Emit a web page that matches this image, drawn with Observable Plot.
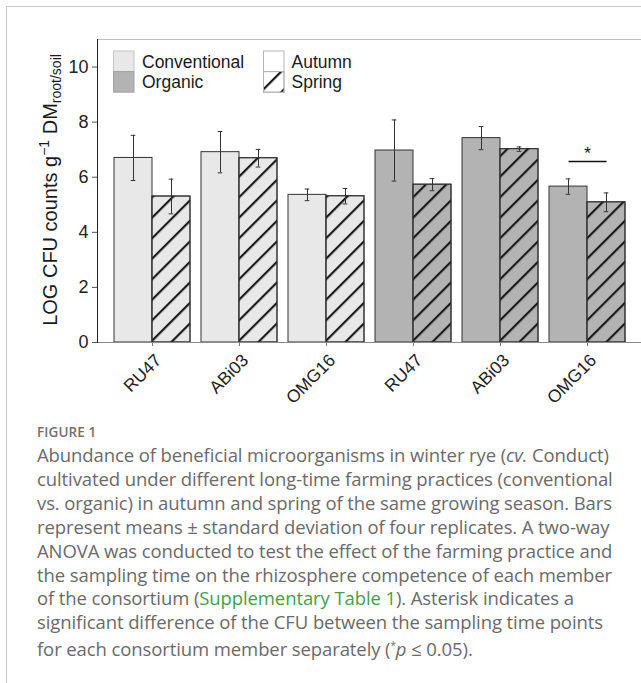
<!DOCTYPE html>
<html>
<head>
<meta charset="utf-8">
<script src="https://cdn.jsdelivr.net/npm/d3@7"></script>
<script src="https://cdn.jsdelivr.net/npm/@observablehq/plot@0.6"></script>
<style>
  html, body { margin: 0; padding: 0; background: #fff; }
  body { width: 641px; height: 683px; overflow: hidden; position: relative; }
  #frame { position: absolute; left: 6px; top: 6px; width: 700px; height: 700px;
           border-top: 1px solid #c8c8c8; border-left: 1px solid #c8c8c8; }
  #chart, #yaxis { position: absolute; left: 0; top: 0; }
  #caption { position: absolute; left: 37px; top: 421px; font-family: "Open Sans", sans-serif;
             color: #6a6a6a; white-space: nowrap; }
  #caption .fig { font-size: 13.5px; font-weight: 600; letter-spacing: 0.1px; color: #707070; line-height: 22px; }
  #caption .body { font-size: 18.5px; line-height: 23.9px; letter-spacing: -0.1px; }
  #caption .link { color: #43a047; }
</style>
</head>
<body>
<div id="frame"></div>
<div id="yaxis"></div>
<div id="chart"></div>
<div id="caption">
  <div class="fig">FIGURE 1</div>
  <div class="body">
    Abundance of beneficial microorganisms in winter rye (<i>cv.</i> Conduct)<br>
    cultivated under different long-time farming practices (conventional<br>
    vs. organic) in autumn and spring of the same growing season. Bars<br>
    represent means ± standard deviation of four replicates. A two-way<br>
    ANOVA was conducted to test the effect of the farming practice and<br>
    the sampling time on the rhizosphere competence of each member<br>
    of the consortium (<span class="link">Supplementary Table 1</span>). Asterisk indicates a<br>
    significant difference of the CFU between the sampling time points<br>
    for each consortium member separately (<sup style="font-size:10px">*</sup><i>p</i> ≤ 0.05).
  </div>
</div>
<script>
// ---- data ----
const strains = ["RU47", "ABi03", "OMG16"];
const practices = ["Conventional", "Organic"];
const seasons = ["Autumn", "Spring"];
// order: Conventional RU47, ABi03, OMG16, Organic RU47, ABi03, OMG16
const autumnMean = [6.70, 6.91, 5.36, 6.97, 7.42, 5.66];
const autumnSD   = [0.82, 0.75, 0.21, 1.11, 0.42, 0.28];
const springMean = [5.30, 6.69, 5.31, 5.73, 7.02, 5.09];
const springSD   = [0.63, 0.32, 0.28, 0.22, 0.08, 0.34];
const yTicks = [0, 2, 4, 6, 8, 10];
const sigGroups = ["Organic OMG16"];
const sigLevel = [6.57];
const sigLabel = ["*"];
const fillColors = ["#e8e8e8", "#b3b3b3"];

// ---- build table ----
const groups = practices.flatMap(p => strains.map(s => ({key: p + " " + s, practice: p, strain: s})));
const rows = groups.flatMap((g, i) => [
  {group: g.key, practice: g.practice, season: "Autumn", mean: autumnMean[i], sd: autumnSD[i]},
  {group: g.key, practice: g.practice, season: "Spring", mean: springMean[i], sd: springSD[i]}
]);
const sig = sigGroups.map((g, i) => ({group: g, y: sigLevel[i], label: sigLabel[i]}));

const ink = "#333333";
const font = "'Liberation Sans', Arial, sans-serif";
const dims = {width: 641, height: 420, marginLeft: 97, marginRight: 0, marginTop: 39, marginBottom: 78};
const yScale = {domain: [0, 11], label: null};

// y axis + top panel line (not faceted), drawn underneath the bars
const axisPlot = Plot.plot({
  ...dims,
  style: {fontFamily: font, color: ink, background: "transparent"},
  x: {axis: null},
  y: yScale,
  marks: [
    Plot.frame({anchor: "top", stroke: "#bdbdbd"}),
    Plot.axisY({ticks: yTicks, tickSize: 5, tickPadding: 4, fontSize: 18, stroke: "#555", fill: "#222"})
  ]
});
document.getElementById("yaxis").appendChild(axisPlot);

const plot = Plot.plot({
  ...dims,
  style: {fontFamily: font, color: ink, background: "transparent"},
  fx: {domain: groups.map(g => g.key), paddingInner: 0.127, paddingOuter: 0.158, label: null},
  x: {domain: seasons, padding: 0, axis: null},
  y: {...yScale, axis: null},
  color: {domain: practices, range: fillColors},
  marks: [
    Plot.barY(rows, {fx: "group", x: "season", y: "mean", fill: "practice", stroke: ink, strokeWidth: 1}),
    Plot.barY(rows.filter(d => d.season === "Spring"),
      {fx: "group", x: "season", y: "mean", fill: "url(#hatch)", stroke: ink, strokeWidth: 1}),
    Plot.ruleX(rows, {fx: "group", x: "season", y1: d => d.mean - d.sd, y2: d => d.mean + d.sd, stroke: ink, strokeWidth: 1}),
    Plot.tickY(rows, {fx: "group", x: "season", y: d => d.mean - d.sd, insetLeft: 16.7, insetRight: 16.7, stroke: ink, strokeWidth: 1}),
    Plot.tickY(rows, {fx: "group", x: "season", y: d => d.mean + d.sd, insetLeft: 16.7, insetRight: 16.7, stroke: ink, strokeWidth: 1}),
    Plot.link(sig, {fx: "group", x1: () => "Autumn", x2: () => "Spring", y1: "y", y2: "y", stroke: "#111", strokeWidth: 1.5}),
    Plot.text(sig, {fx: "group", y: "y", text: "label", dy: -3, lineAnchor: "bottom", fontSize: 17, fill: "#111"}),
    // tick marks only
    Plot.axisFx({anchor: "bottom", tickSize: 4, stroke: "#777", tickFormat: () => "", label: null}),
    // rotated labels only
    Plot.axisFx({anchor: "bottom", tickSize: 4, tickPadding: 4, tickRotate: -45, fontSize: 17.5, stroke: "none", fill: "#222",
      dx: 6, dy: 7, tickFormat: k => k.split(" ")[1], label: null})
  ]
});
document.getElementById("chart").appendChild(plot);

// baseline and left axis line on top of bars, from an unfaceted overlay
const linePlot = Plot.plot({
  ...dims,
  style: {background: "transparent"},
  x: {axis: null},
  y: {...yScale, axis: null},
  marks: [
    Plot.frame({anchor: "bottom", stroke: "#8a8a8a", strokeWidth: 1.2}),
    Plot.frame({anchor: "left", stroke: "#222", strokeWidth: 1})
  ]
});
linePlot.style.position = "absolute";
linePlot.style.left = "0px";
linePlot.style.top = "0px";
document.body.appendChild(linePlot);

// ---- hatch pattern, legend and y title ----
const svg = d3.select(plot);
svg.insert("defs", ":first-child").html(
  `<pattern id="hatch" patternUnits="userSpaceOnUse" width="14.5" height="14.5" patternTransform="rotate(45)">
     <line x1="3" y1="-2" x2="3" y2="17" stroke="#1a1a1a" stroke-width="2.2"/>
   </pattern>`);

const color = plot.scale("color");
const leg = svg.append("g").attr("font-family", font).attr("font-size", 17.5).attr("fill", "#1a1a1a")
  .attr("text-anchor", "start");
practices.forEach((p, i) => {
  leg.append("rect").attr("x", 113.5).attr("y", 51 + i * 20.6).attr("width", 20.5).attr("height", 20.6)
    .attr("fill", color.apply(p)).attr("stroke", i === 0 ? "#c4c4c4" : "#a2a2a2");
  leg.append("text").attr("x", 142).attr("y", 61.5 + i * 20.6).attr("dy", "0.36em").text(p);
});
seasons.forEach((s, i) => {
  leg.append("rect").attr("x", 263.5).attr("y", 51 + i * 20.6).attr("width", 20.5).attr("height", 20.6)
    .attr("fill", "#fff").attr("stroke", "#b5b5b5");
  if (i === 1) leg.append("rect").attr("x", 263.5).attr("y", 51 + i * 20.6).attr("width", 20.5).attr("height", 20.6)
    .attr("fill", "url(#hatch)").attr("stroke", "#b5b5b5");
  leg.append("text").attr("x", 291.5).attr("y", 61.5 + i * 20.6).attr("dy", "0.36em").text(s);
});

const title = svg.append("text")
  .attr("transform", "translate(57,190) rotate(-90)")
  .attr("text-anchor", "middle")
  .attr("font-family", font)
  .attr("font-size", 20).attr("fill", "#1a1a1a");
title.append("tspan").text("LOG CFU counts g");
title.append("tspan").attr("font-size", 14).attr("dy", -8).text("−1");
title.append("tspan").attr("dy", 8).text(" DM");
title.append("tspan").attr("font-size", 14).attr("dy", 4).text("root/soil");
</script>
</body>
</html>
